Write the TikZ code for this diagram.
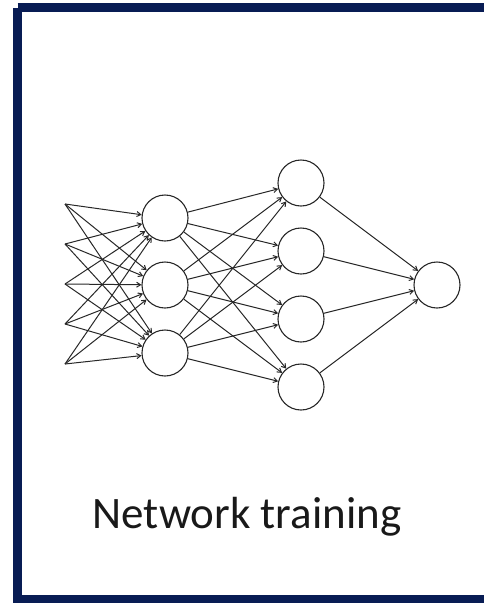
\documentclass[tikz,border=0pt]{standalone}
\usepackage{fontspec}
\setmainfont{Carlito}
\usetikzlibrary{arrows.meta}
\definecolor{frameblue}{RGB}{8,28,84}
\definecolor{edgegray}{RGB}{40,40,40}
\tikzset{
  neuron/.style={circle,draw=edgegray,line width=1.1pt,minimum size=46pt,inner sep=0pt},
  link/.style={draw=edgegray,line width=1pt,-{Straight Barb[length=4pt,width=5pt]}},
  title/.style={font=\fontsize{45}{50}\selectfont,text=black!90}
}
\begin{document}
\begin{tikzpicture}[x=1pt,y=-1pt]
\useasboundingbox (0,0) rectangle (484,603);
\clip (0,0) rectangle (484,603);
\fill[white] (0,0) rectangle (484,603);
\draw[frameblue,line width=9pt] (17.5,7.5) -- (500,7.5);
\draw[frameblue,line width=9pt] (17.5,7.5) -- (17.5,599.5) -- (500,599.5);
% inputs
\foreach \i/\y in {1/204,2/244,3/284,4/324,5/364}{\coordinate (i\i) at (65,\y);}
% hidden 1
\node[neuron] (h1) at (165,218) {};
\node[neuron] (h2) at (165,285) {};
\node[neuron] (h3) at (165,353) {};
% hidden 2
\node[neuron] (g1) at (301,183) {};
\node[neuron] (g2) at (301,251) {};
\node[neuron] (g3) at (301,319) {};
\node[neuron] (g4) at (301,387) {};
% output
\node[neuron] (o) at (437,285) {};
\foreach \i in {1,...,5}{\foreach \h in {1,2,3}{\path[link] (i\i) -- (h\h);}}
\foreach \h in {1,2,3}{\foreach \g in {1,...,4}{\path[link] (h\h) -- (g\g);}}
\foreach \g in {1,...,4}{\path[link] (g\g) -- (o);}
\node[title,anchor=base] (t) at (247,528) {Network training};
\end{tikzpicture}
\end{document}
